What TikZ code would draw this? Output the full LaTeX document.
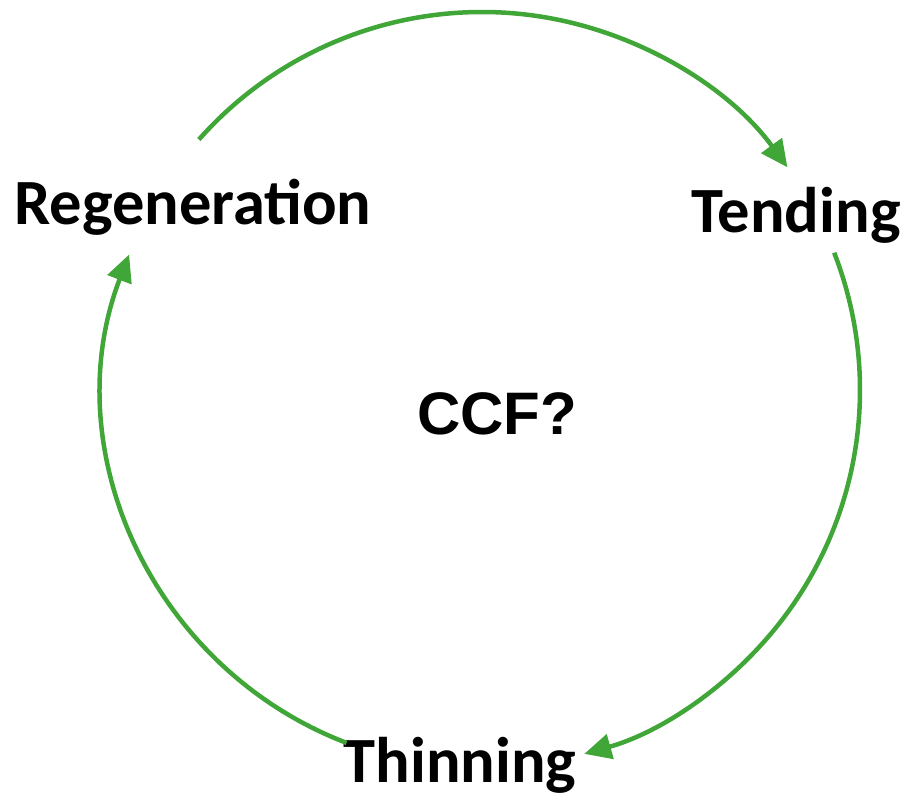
\documentclass[tikz,border=0pt]{standalone}
\usepackage{fontspec}
\setmainfont{Carlito}
\newfontfamily\arialfont{Liberation Sans}
\usetikzlibrary{arrows.meta}
\definecolor{arcgreen}{RGB}{64,166,56}
\tikzset{
  cyclearc/.style={draw=arcgreen, line width=4.5pt, -{Triangle[length=27pt,width=25pt]}},
  stagelabel/.style={anchor=base, inner sep=0pt, font=\fontsize{64.5}{72}\selectfont\bfseries},
}
\begin{document}
\begin{tikzpicture}[x=1pt,y=1pt]
\useasboundingbox (0,0) rectangle (908,798);
\coordinate (ctr) at (482,408);
\node[stagelabel] (regen) at (193,573) {Regeneration};
\node[stagelabel] (tend) at (796,565) {Tending};
\node[stagelabel] (thin) at (460,15) {Thinning};
\node[anchor=base, inner sep=0pt, font=\arialfont\fontsize{60}{70}\selectfont\bfseries] (ccf) at (497,363) {CCF?};
\coordinate (a1) at ([shift={(138.5:378)}]ctr);
\coordinate (a2) at ([shift={(21.3:378)}]ctr);
\coordinate (a3) at ([shift={(-111:378)}]ctr);
\draw[cyclearc] (a1) arc[start angle=138.5, end angle=36.1, radius=378];
\draw[cyclearc] (a2) arc[start angle=21.3, end angle=-74.3, radius=378];
\draw[cyclearc] (a3) arc[start angle=-111, end angle=-201, radius=378];
\end{tikzpicture}
\end{document}
